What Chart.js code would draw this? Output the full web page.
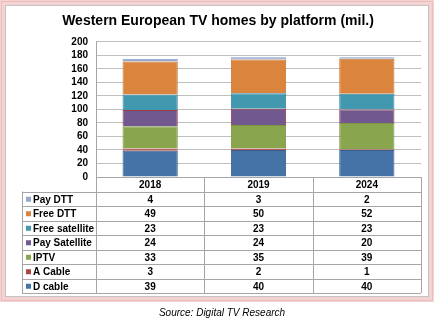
<!DOCTYPE html>
<html>
<head>
<meta charset="utf-8">
<script src="https://cdn.jsdelivr.net/npm/chart.js@4.4.1/dist/chart.umd.min.js"></script>
<style>
  html, body { margin: 0; padding: 0; background: #fff; }
  #wrap { position: relative; width: 436px; height: 321px; }
</style>
</head>
<body>
<div id="wrap"><canvas id="tv" width="436" height="321"></canvas></div>
<script>
// data
const years = ["2018", "2019", "2024"];
const dCable = [39, 40, 40];
const aCable = [3, 2, 1];
const iptv = [33, 35, 39];
const paySat = [24, 24, 20];
const freeSat = [23, 23, 23];
const freeDtt = [49, 50, 52];
const payDtt = [4, 3, 2];
const yTicks = [0, 20, 40, 60, 80, 100, 120, 140, 160, 180, 200];

// stack order bottom -> top
const series = [
  { label: "D cable", data: dCable, color: "#4572A7", edge: "#3A5F8C" },
  { label: "A Cable", data: aCable, color: "#AA4643", edge: "#C0504D" },
  { label: "IPTV", data: iptv, color: "#89A54E", edge: "#7A9444" },
  { label: "Pay Satellite", data: paySat, color: "#71588F", edge: "#9B3B4A" },
  { label: "Free satellite", data: freeSat, color: "#4198AF", edge: "#3A89A0" },
  { label: "Free DTT", data: freeDtt, color: "#DB843D", edge: "#C97834" },
  { label: "Pay DTT", data: payDtt, color: "#93A9CF", edge: "#86A0CC" }
];

const FONT = "'Liberation Sans', Arial, sans-serif";
const rowH = 14.5;
const tableLeft = 22;

// frame around the whole picture
const framePlugin = {
  id: "frame",
  beforeDraw(chart) {
    const c = chart.ctx;
    c.save();
    c.fillStyle = "#fff";
    c.fillRect(0, 0, chart.width, chart.height);
    c.strokeStyle = "#F6D3D3";
    c.lineWidth = 5;
    c.strokeRect(2.5, 2.5, 429, 297);
    c.strokeStyle = "#ECBDBD";
    c.lineWidth = 1;
    c.strokeRect(1.5, 1.5, 431, 299);
    c.strokeStyle = "#C4C4C4";
    c.strokeRect(5.5, 5.5, 423, 291);
    c.restore();
  }
};

// data table under the plot, columns taken from the x scale
const tablePlugin = {
  id: "dataTable",
  afterDraw(chart) {
    const c = chart.ctx;
    const x = chart.scales.x;
    const area = chart.chartArea;
    const top = area.bottom;
    const rows = series.slice().reverse();
    const bottom = top + rowH * (rows.length + 1);
    const half = (x.getPixelForValue(1) - x.getPixelForValue(0)) / 2;
    c.save();
    c.strokeStyle = "#A6A6A6";
    c.lineWidth = 1;
    // vertical lines
    c.beginPath();
    for (let i = 0; i <= years.length; i++) {
      const px = i < years.length ? Math.round(x.getPixelForValue(i) - half) + 0.5 : Math.round(area.right) + 0.5;
      c.moveTo(px, top);
      c.lineTo(px, bottom);
    }
    c.moveTo(tableLeft + 0.5, top + rowH);
    c.lineTo(tableLeft + 0.5, bottom);
    // horizontal lines
    c.moveTo(area.left, Math.round(top) + 0.5);
    c.lineTo(area.right, Math.round(top) + 0.5);
    for (let r = 1; r <= rows.length + 1; r++) {
      const py = Math.round(top + r * rowH) + 0.5;
      c.moveTo(tableLeft, py);
      c.lineTo(area.right, py);
    }
    c.stroke();

    c.fillStyle = "#000";
    c.font = "bold 10px " + FONT;
    c.textBaseline = "middle";
    c.textAlign = "center";
    years.forEach((yr, i) => {
      c.fillText(yr, x.getPixelForValue(i), top + rowH / 2 + 1);
    });
    rows.forEach((s, r) => {
      const cy = top + rowH * (r + 1) + rowH / 2 + 1;
      c.fillStyle = s.color;
      c.fillRect(tableLeft + 4, cy - 3, 5, 5);
      c.fillStyle = "#000";
      c.textAlign = "left";
      c.fillText(s.label, tableLeft + 11, cy);
      c.textAlign = "center";
      s.data.forEach((v, i) => {
        c.fillText(String(v), x.getPixelForValue(i), cy);
      });
    });

    c.font = "italic 10px " + FONT;
    c.fillText("Source: Digital TV Research", 222, 313);
    c.restore();
  }
};

new Chart(document.getElementById("tv"), {
  type: "bar",
  data: {
    labels: years,
    datasets: series.map((s) => ({
      label: s.label,
      data: s.data,
      backgroundColor: s.color,
      borderColor: s.edge,
      borderWidth: 1,
      categoryPercentage: 1,
      barPercentage: 0.51
    }))
  },
  options: {
    responsive: false,
    animation: false,
    layout: { padding: { left: 15, right: 15, top: 0, bottom: 144 } },
    plugins: {
      legend: { display: false },
      tooltip: { enabled: false },
      title: {
        display: true,
        text: "Western European TV homes by platform (mil.)",
        color: "#000",
        font: { family: FONT, size: 14, weight: "bold" },
        padding: { top: 13, bottom: 12 }
      }
    },
    scales: {
      x: {
        stacked: true,
        display: false
      },
      y: {
        stacked: true,
        min: 0,
        max: 200,
        afterFit(scale) { scale.width = 81; },
        afterBuildTicks(scale) { scale.ticks = yTicks.map((v) => ({ value: v })); },
        ticks: {
          color: "#000",
          padding: 8,
          autoSkip: false,
          font: { family: FONT, size: 10, weight: "bold" }
        },
        grid: { color: "#BFBFBF", drawTicks: false },
        border: { color: "#A6A6A6" }
      }
    }
  },
  plugins: [framePlugin, tablePlugin]
});
</script>
</body>
</html>
